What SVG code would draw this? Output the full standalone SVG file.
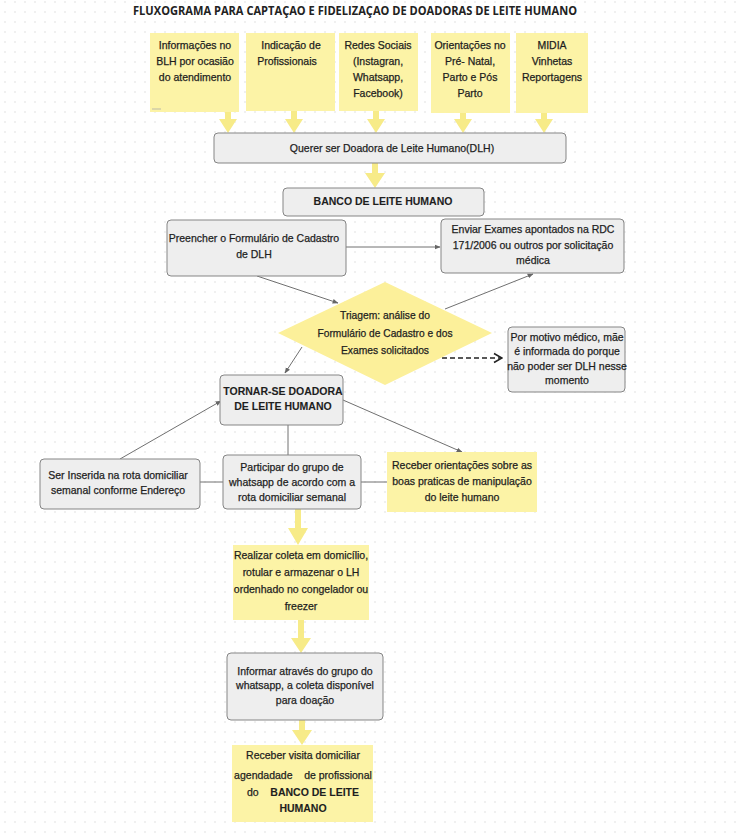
<svg xmlns="http://www.w3.org/2000/svg" width="738" height="837" viewBox="0 0 738 837">
<defs>
<pattern id="dots" x="4" y="1" width="10" height="10" patternUnits="userSpaceOnUse">
<circle cx="1" cy="1" r="0.7" fill="#d6d6d6"/>
</pattern>
<marker id="ah" viewBox="0 0 10 10" refX="9" refY="5" markerWidth="6" markerHeight="6" orient="auto" markerUnits="userSpaceOnUse">
<path d="M0,1 L10,5 L0,9 z" fill="#666"/>
</marker>
<marker id="chev" viewBox="0 0 10 10" refX="9" refY="5" markerWidth="10" markerHeight="12" orient="auto" markerUnits="userSpaceOnUse">
<path d="M1,0.5 L9,5 L1,9.5" fill="none" stroke="#222" stroke-width="1.6"/>
</marker>
</defs>
<style>
.t{font-family:"Liberation Sans",Arial,sans-serif;font-size:10.5px;fill:#1e1e1e;stroke:#1e1e1e;stroke-width:0.25px;text-anchor:middle}
.b{font-weight:bold;stroke-width:0.1px}
.ybox{fill:#fcf3a6;stroke:none}
.gbox{fill:#eeeeee;stroke:#858585;stroke-width:1}
.conn{stroke:#707070;stroke-width:1;fill:none}
.ya{fill:#f7eb88}
</style>
<rect width="738" height="837" fill="#ffffff"/>
<rect width="738" height="837" fill="url(#dots)"/>

<text x="355" y="15" font-family="'Open Sans',sans-serif" font-size="11.5" font-weight="bold" fill="#222" text-anchor="middle" textLength="444" lengthAdjust="spacingAndGlyphs">FLUXOGRAMA PARA CAPTAÇAO E FIDELIZAÇAO DE DOADORAS DE LEITE HUMANO</text>

<g id="connectors">
<path class="ya" d="M225,111 L231,111 L231,119 L237,119 L228,133 L219,119 L225,119 Z"/>
<path class="ya" d="M291,111 L297,111 L297,119 L303,119 L294,133 L285,119 L291,119 Z"/>
<path class="ya" d="M373,111 L379,111 L379,119 L385,119 L376,133 L367,119 L373,119 Z"/>
<path class="ya" d="M460,113 L466,113 L466,119 L472,119 L463,133 L454,119 L460,119 Z"/>
<path class="ya" d="M541,113 L547,113 L547,119 L553,119 L544,133 L535,119 L541,119 Z"/>
<path class="ya" d="M372,163 L378,163 L378,173 L385,173 L375,188 L365,173 L372,173 Z"/>
<path class="ya" d="M295,509 L301,509 L301,528 L308,528 L298,545 L288,528 L295,528 Z"/>
<path class="ya" d="M298,620 L304,620 L304,638 L311,638 L301,653 L291,638 L298,638 Z"/>
<path class="ya" d="M299,720 L305,720 L305,730 L312,730 L302,745 L292,730 L299,730 Z"/>
<line class="conn" x1="346" y1="247" x2="440" y2="247" marker-end="url(#ah)"/>
<line class="conn" x1="257" y1="276" x2="338" y2="303" marker-end="url(#ah)"/>
<line class="conn" x1="445" y1="309" x2="533" y2="274" marker-end="url(#ah)"/>
<line class="conn" x1="302" y1="347" x2="285" y2="373" marker-end="url(#ah)"/>
<line x1="442" y1="358" x2="502" y2="358" stroke="#222" stroke-width="1.6" stroke-dasharray="5,3" marker-end="url(#chev)"/>
<line class="conn" x1="120" y1="459" x2="221" y2="401" marker-end="url(#ah)"/>
<line class="conn" x1="288" y1="425" x2="288" y2="455"/>
<line class="conn" x1="343" y1="400" x2="462" y2="452" marker-end="url(#ah)"/>
<line class="conn" x1="200" y1="482" x2="223" y2="482"/>
<line class="conn" x1="361" y1="482" x2="387" y2="482"/>
</g>

<g id="n1">
<rect class="ybox" x="150" y="33" width="89" height="79"/>
<line x1="152" y1="109" x2="161" y2="109" stroke="#aaa" stroke-width="0.8"/>
<text class="t" x="195" y="49">Informações no</text>
<text class="t" x="195" y="65">BLH por ocasião</text>
<text class="t" x="195" y="81">do atendimento</text>
</g>
<g id="n2">
<rect class="ybox" x="246" y="33" width="89" height="78"/>
<text class="t" x="291" y="49">Indicação de</text>
<text class="t" x="287" y="65">Profissionais</text>
</g>
<g id="n3">
<rect class="ybox" x="339" y="33" width="79" height="78"/>
<text class="t" x="378" y="49">Redes Sociais</text>
<text class="t" x="378" y="65">(Instagran,</text>
<text class="t" x="378" y="81">Whatsapp,</text>
<text class="t" x="378" y="97">Facebook)</text>
</g>
<g id="n4">
<rect class="ybox" x="431" y="33" width="79" height="80"/>
<text class="t" x="470" y="49">Orientações no</text>
<text class="t" x="470" y="65">Pré- Natal,</text>
<text class="t" x="470" y="81">Parto e Pós</text>
<text class="t" x="470" y="97">Parto</text>
</g>
<g id="n5">
<rect class="ybox" x="516" y="33" width="72" height="80"/>
<text class="t" x="552" y="49">MIDIA</text>
<text class="t" x="552" y="65">Vinhetas</text>
<text class="t" x="552" y="81">Reportagens</text>
</g>

<g id="querer">
<rect class="gbox" x="214" y="133" width="352" height="30" rx="4"/>
<text class="t" x="392" y="152">Querer ser Doadora de Leite Humano(DLH)</text>
</g>
<g id="banco">
<rect class="gbox" x="283" y="188" width="201" height="28" rx="4"/>
<text class="t b" x="383" y="205" font-size="10">BANCO DE LEITE HUMANO</text>
</g>
<g id="preencher">
<rect class="gbox" x="167" y="220" width="179" height="56" rx="4"/>
<text class="t" x="254" y="242">Preencher o Formulário de Cadastro</text>
<text class="t" x="254" y="258">de DLH</text>
</g>
<g id="enviar">
<rect class="gbox" x="441" y="219" width="183" height="54" rx="4"/>
<text class="t" x="533" y="233">Enviar Exames apontados na RDC</text>
<text class="t" x="533" y="249">171/2006 ou outros por solicitação</text>
<text class="t" x="533" y="264">médica</text>
</g>
<g id="triagem">
<polygon points="385,282 492,333 385,385 278,333" fill="#fcf09a"/>
<text class="t" x="385" y="319" font-size="11.5" textLength="90" lengthAdjust="spacingAndGlyphs">Triagem: análise do</text>
<text class="t" x="385" y="337" font-size="11.5" textLength="135" lengthAdjust="spacingAndGlyphs">Formulário de Cadastro e dos</text>
<text class="t" x="385" y="354" font-size="11.5" textLength="88" lengthAdjust="spacingAndGlyphs">Exames solicitados</text>
</g>
<g id="motivo">
<rect class="gbox" x="508" y="327" width="117" height="65" rx="4"/>
<text class="t" x="567" y="341">Por motivo médico, mãe</text>
<text class="t" x="567" y="355">é informada do porque</text>
<text class="t" x="567" y="370">não poder ser DLH nesse</text>
<text class="t" x="567" y="384">momento</text>
</g>
<g id="tornar">
<rect class="gbox" x="220" y="375" width="123" height="50" rx="4"/>
<text class="t b" x="283" y="395" font-size="10">TORNAR-SE DOADORA</text>
<text class="t b" x="283" y="410" font-size="10">DE LEITE HUMANO</text>
</g>
<g id="inserida">
<rect class="gbox" x="40" y="459" width="160" height="50" rx="4"/>
<text class="t" x="118" y="479">Ser Inserida na rota domiciliar</text>
<text class="t" x="118" y="494">semanal conforme Endereço</text>
</g>
<g id="participar">
<rect class="gbox" x="223" y="455" width="138" height="54" rx="4"/>
<text class="t" x="292" y="471">Participar do grupo de</text>
<text class="t" x="292" y="486">whatsapp de acordo com a</text>
<text class="t" x="292" y="501">rota domiciliar semanal</text>
</g>
<g id="orientacoes">
<rect class="ybox" x="387" y="452" width="150" height="60"/>
<text class="t" x="462" y="469">Receber orientações sobre as</text>
<text class="t" x="462" y="485">boas praticas de manipulação</text>
<text class="t" x="462" y="501">do leite humano</text>
</g>
<g id="realizar">
<rect class="ybox" x="233" y="545" width="136" height="75"/>
<text class="t" x="301" y="559">Realizar coleta em domicílio,</text>
<text class="t" x="301" y="576">rotular e armazenar o LH</text>
<text class="t" x="301" y="593">ordenhado no congelador ou</text>
<text class="t" x="301" y="610">freezer</text>
</g>
<g id="informar">
<rect class="gbox" x="227" y="653" width="156" height="67" rx="4"/>
<text class="t" x="305" y="675">Informar através do grupo do</text>
<text class="t" x="305" y="689">whatsapp, a coleta disponível</text>
<text class="t" x="305" y="704">para doação</text>
</g>
<g id="visita">
<rect class="ybox" x="232" y="745" width="141" height="77"/>
<text class="t" x="303" y="759">Receber visita domiciliar</text>
<text class="t" x="303" y="779" xml:space="preserve">agendadade    de profissional</text>
<text class="t" x="303" y="796" xml:space="preserve">do    <tspan class="b">BANCO DE LEITE</tspan></text>
<text class="t b" x="303" y="812">HUMANO</text>
</g>
</svg>
